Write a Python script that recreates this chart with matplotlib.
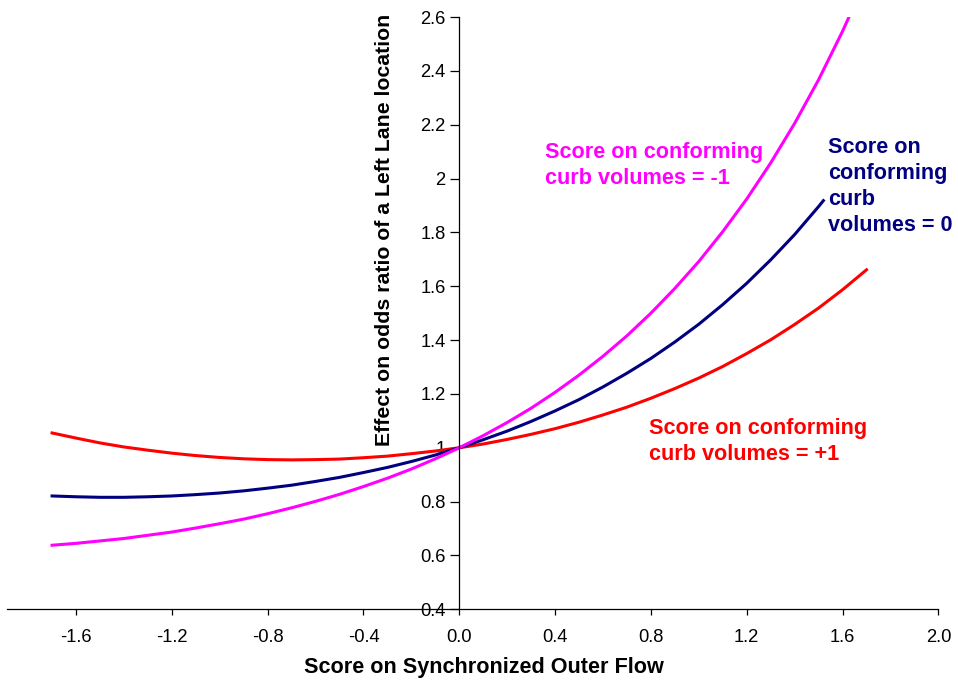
import matplotlib.pyplot as plt
import matplotlib.ticker as mticker

plt.rcParams['font.family'] = ['Liberation Sans', 'DejaVu Sans']

# values
x_red = [-1.7, -1.6, -1.5, -1.4, -1.3, -1.2, -1.1, -1.0, -0.9, -0.8, -0.7, -0.6, -0.5, -0.4, -0.3, -0.2, -0.1,
         0.0, 0.1, 0.2, 0.3, 0.4, 0.5, 0.6, 0.7, 0.8, 0.9, 1.0, 1.1, 1.2, 1.3, 1.4, 1.5, 1.6, 1.7]
y_red = [1.055, 1.036, 1.018, 1.003, 0.991, 0.980, 0.971, 0.964, 0.959, 0.956, 0.955, 0.956, 0.958, 0.963, 0.969, 0.978, 0.988,
         1.0, 1.014, 1.031, 1.050, 1.071, 1.095, 1.122, 1.151, 1.184, 1.220, 1.259, 1.302, 1.350, 1.401, 1.458, 1.519, 1.587, 1.661]

x_navy = [-1.7, -1.6, -1.5, -1.4, -1.3, -1.2, -1.1, -1.0, -0.9, -0.8, -0.7, -0.6, -0.5, -0.4, -0.3, -0.2, -0.1,
          0.0, 0.1, 0.2, 0.3, 0.4, 0.5, 0.6, 0.7, 0.8, 0.9, 1.0, 1.1, 1.2, 1.3, 1.4, 1.5, 1.52]
y_navy = [0.821, 0.818, 0.816, 0.816, 0.818, 0.821, 0.826, 0.832, 0.840, 0.850, 0.861, 0.875, 0.890, 0.908, 0.927, 0.949, 0.973,
          1.0, 1.030, 1.062, 1.098, 1.137, 1.179, 1.226, 1.277, 1.332, 1.393, 1.459, 1.532, 1.611, 1.698, 1.792, 1.896, 1.918]

x_mag = [-1.7, -1.6, -1.5, -1.4, -1.3, -1.2, -1.1, -1.0, -0.9, -0.8, -0.7, -0.6, -0.5, -0.4, -0.3, -0.2, -0.1,
         0.0, 0.1, 0.2, 0.3, 0.4, 0.5, 0.6, 0.7, 0.8, 0.9, 1.0, 1.1, 1.2, 1.3, 1.4, 1.5, 1.6, 1.7]
y_mag = [0.638, 0.645, 0.654, 0.663, 0.675, 0.687, 0.702, 0.718, 0.735, 0.755, 0.777, 0.801, 0.827, 0.856, 0.887, 0.921, 0.959,
         1.0, 1.045, 1.094, 1.147, 1.206, 1.270, 1.340, 1.416, 1.500, 1.592, 1.692, 1.803, 1.924, 2.058, 2.205, 2.367, 2.547, 2.745]

x_ticks = [-1.6, -1.2, -0.8, -0.4, 0.0, 0.4, 0.8, 1.2, 1.6, 2.0]
y_ticks = [0.4, 0.6, 0.8, 1.0, 1.2, 1.4, 1.6, 1.8, 2.0, 2.2, 2.4, 2.6]

fig = plt.figure(figsize=(9.58, 6.86), dpi=100)
ax = fig.add_axes([0.0076, 0.1118, 0.9719, 0.8634])

ax.plot(x_red, y_red, color='#ff0000', linewidth=2.2)
ax.plot(x_navy, y_navy, color='#000080', linewidth=2.2)
ax.plot(x_mag, y_mag, color='#ff00ff', linewidth=2.2)

ax.set_xlim(-1.887, 2.0)
ax.set_ylim(0.4, 2.6)

ax.spines['top'].set_visible(False)
ax.spines['right'].set_visible(False)
ax.spines['left'].set_position(('data', 0))
ax.spines['left'].set_linewidth(0.9)
ax.spines['bottom'].set_linewidth(0.9)

ax.set_xticks(x_ticks)
ax.set_yticks(y_ticks)
ax.xaxis.set_major_formatter(mticker.FormatStrFormatter('%.1f'))
ax.yaxis.set_major_formatter(mticker.FuncFormatter(lambda v, p: ('%g' % round(v, 1))))
ax.tick_params(axis='x', direction='out', length=4.5, width=0.9, labelsize=13.2, pad=10)
ax.tick_params(axis='y', direction='out', length=6.5, width=0.9, labelsize=13.2, pad=3.5)

fig.text(484 / 958, 1 - 668 / 686, 'Score on Synchronized Outer Flow', ha='center', va='center',
         fontsize=15.6, fontweight='bold')
fig.text(385 / 958, 1 - 230 / 686, 'Effect on odds ratio of a Left Lane location', ha='center', va='center',
         rotation=90, fontsize=15.3, fontweight='bold')

ax.text(0.358, 2.135, 'Score on conforming\ncurb volumes = -1', color='#ff00ff', fontsize=15.6,
        fontweight='bold', va='top', ha='left', linespacing=1.33)
ax.text(1.538, 2.156, 'Score on\nconforming\ncurb\nvolumes = 0', color='#000080', fontsize=15.6,
        fontweight='bold', va='top', ha='left', linespacing=1.33)
ax.text(0.792, 1.112, 'Score on conforming\ncurb volumes = +1', color='#ff0000', fontsize=15.6,
        fontweight='bold', va='top', ha='left', linespacing=1.33)

fig.savefig('out.png', dpi=100)
